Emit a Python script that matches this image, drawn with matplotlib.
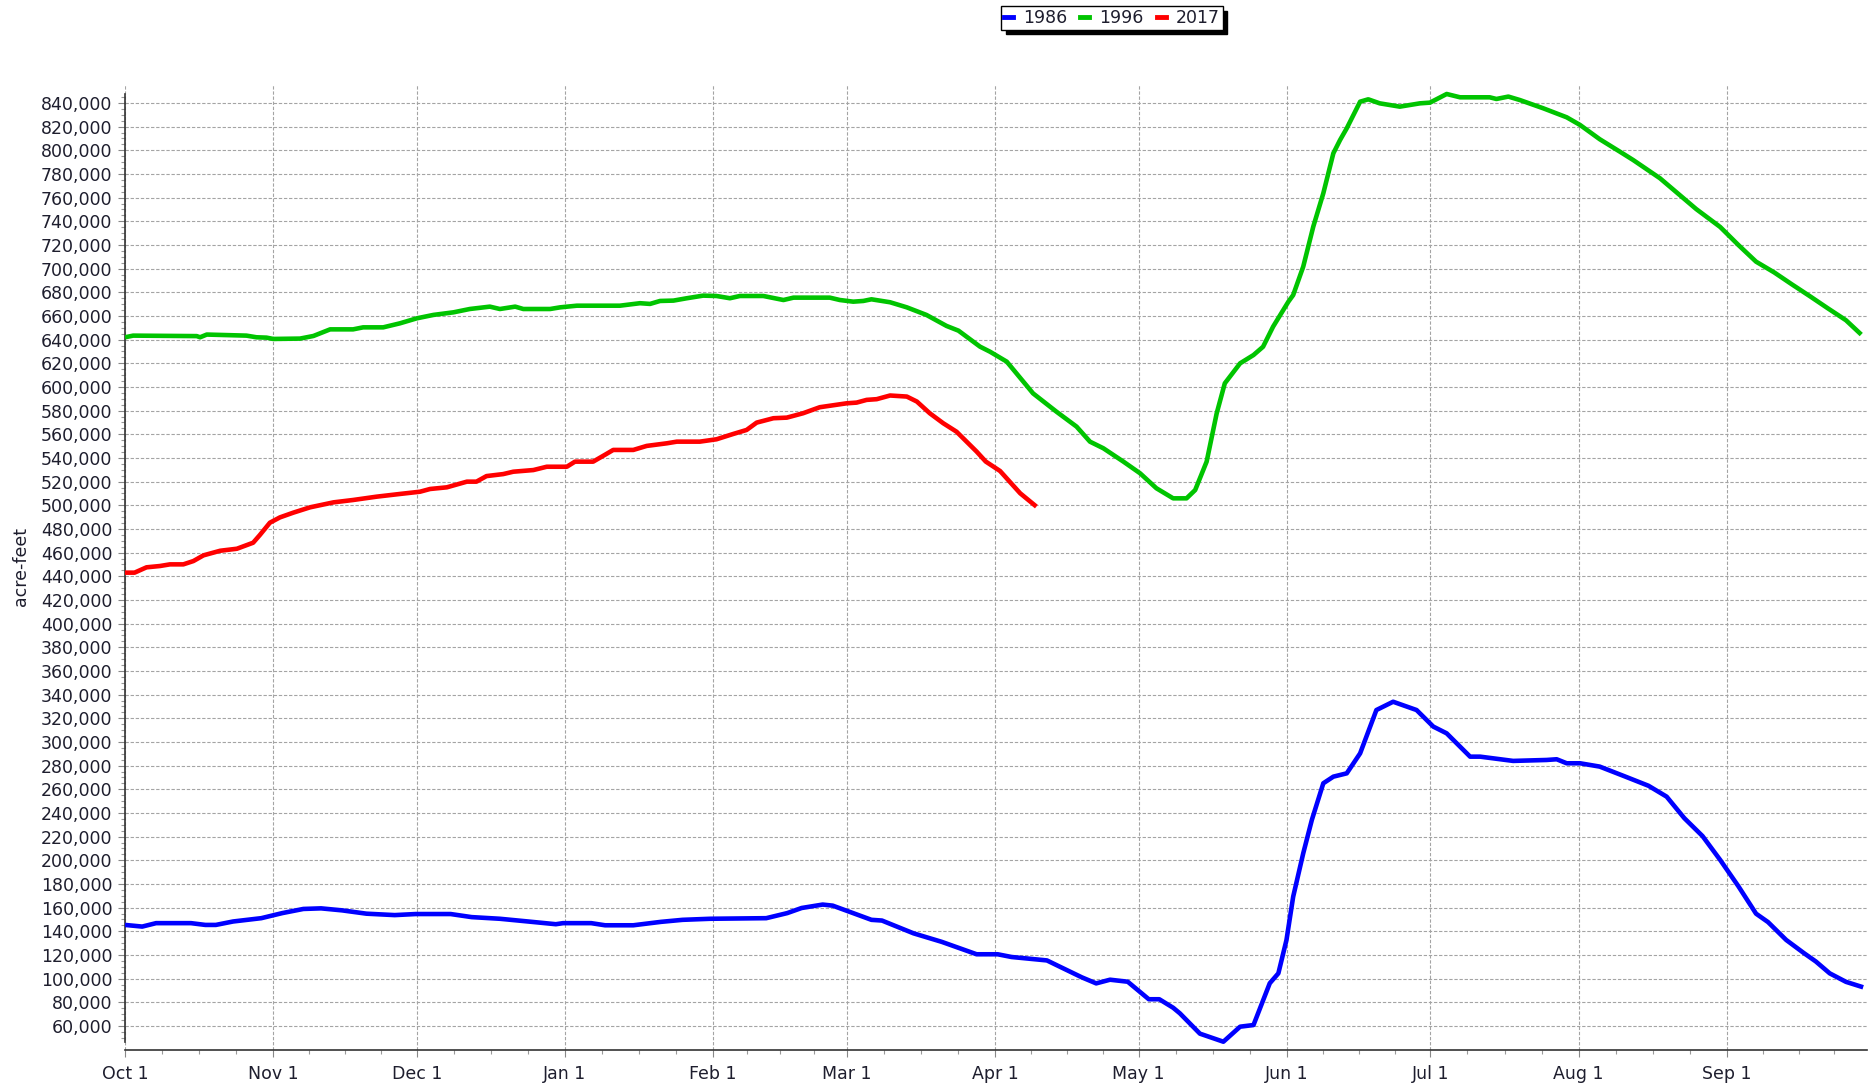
import matplotlib
matplotlib.use("Agg")
import matplotlib.pyplot as plt
from matplotlib.lines import Line2D
from matplotlib.ticker import FixedLocator, FuncFormatter
import numpy as np

# ---------------- data (day of water year since Oct 1, acre-feet) ----------------
days_1986 = [0, 3.6, 6.5, 13.8, 16.8, 19, 22.6, 28.5, 32.9, 37.3, 41, 45.4, 50.5, 56.4, 60.8,
             68.1, 72.5, 78.4, 84.3, 90.1, 91.6, 97.5, 100.4, 106.3, 112.1, 116.6, 122.4, 134.1,
             138.5, 141.5, 145.9, 148, 153.2, 156.1, 158.3, 164.9, 170.8, 178.1, 182.5, 185.4,
             192.8, 195.7, 200.1, 203.1, 206, 209.7, 214.1, 216.3, 219.2, 220.6, 224.8, 229.7,
             233.2, 236, 239.4, 241.2, 242.9, 244.3, 246.4, 248.2, 250.6, 252.7, 255.5, 258.3,
             261.7, 265.2, 270.1, 273.6, 276.4, 281.3, 283.4, 290.3, 297.3, 299.4, 301.5, 304.3,
             308.4, 313.6, 318.6, 322.4, 326.1, 329.9, 333.6, 337.4, 341.1, 343.6, 347.4, 351.1,
             353.6, 356.5, 359.9, 363.5]
vals_1986 = [145400, 144000, 146900, 146900, 145400, 145400, 148300, 151100, 155400, 158900,
             159400, 157700, 154900, 153700, 154600, 154600, 152000, 150600, 148300, 146000,
             146900, 146900, 145100, 145100, 148000, 149700, 150600, 151100, 155400, 159700,
             162600, 161700, 154000, 149700, 149100, 138300, 131100, 120600, 120600, 118300,
             115400, 109700, 101100, 96000, 99100, 97400, 82600, 82600, 75400, 70700, 53500,
             46700, 59400, 60800, 96100, 104500, 132700, 169300, 205900, 234100, 265100, 270700,
             273500, 290400, 327000, 334000, 327000, 313000, 307300, 287600, 287600, 284000,
             284800, 285400, 282000, 282000, 279200, 271000, 263000, 253800, 235600, 220500,
             200300, 178100, 154900, 147800, 132700, 121600, 114500, 104500, 97300, 92700]

days_1996 = [0, 1.7, 15, 15.7, 17.1, 25.4, 27.5, 29.6, 31, 36.6, 39.4, 42.9, 47.7, 49.8, 54,
             57.5, 61, 64.5, 68.7, 72.1, 76.3, 78.4, 81.6, 83.3, 88.9, 91, 94.5, 103.5, 107.7,
             109.8, 111.9, 114.7, 117.5, 120.9, 123.7, 126.5, 128.6, 133.5, 137.7, 139.8, 147.4,
             149.5, 152.3, 154.4, 156.1, 160, 163.5, 167.6, 171.8, 174.3, 178.8, 180.9, 184.4,
             189.9, 194.8, 199, 201.8, 204.6, 208.8, 212.3, 215.7, 219.2, 222, 223.8, 226.2,
             228.3, 230, 233.2, 236, 238, 240.1, 243.3, 244.3, 246.4, 248.5, 250.6, 252.7,
             254.1, 255.5, 258.3, 260, 262.4, 266.6, 270.8, 272.9, 276.4, 279.2, 285.4, 286.8,
             289.3, 291.7, 296.6, 301.5, 304.3, 308.4, 312.6, 315.4, 321, 328.6, 333.6, 337.4,
             341.1, 344.9, 348.6, 352.4, 356.1, 359.9, 363.1]
vals_1996 = [642000, 643400, 643000, 642000, 644300, 643400, 642000, 641700, 640600, 640900,
             643100, 648700, 648700, 650400, 650400, 653800, 658000, 660900, 663100, 665900,
             667900, 665900, 667900, 665900, 665900, 667300, 668700, 668700, 670800, 670200,
             672700, 673000, 675000, 677200, 676900, 675000, 676900, 676900, 673500, 675500,
             675500, 673500, 672100, 672700, 674100, 671600, 667300, 660900, 651600, 647600,
             634100, 629800, 621400, 594600, 579100, 566500, 553800, 548200, 536900, 527000,
             514400, 505900, 505900, 512900, 536900, 577700, 603100, 620000, 627000, 634000,
             651000, 672100, 677700, 701700, 735500, 763700, 797500, 808700, 818600, 841100,
             843100, 839700, 836900, 839700, 840300, 847600, 844800, 844800, 843400, 845400,
             842500, 835500, 827900, 821400, 809400, 798900, 791800, 776400, 750300, 735200,
             720000, 705900, 696800, 686700, 676600, 666500, 656400, 644300]

days_2017 = [0, 2, 4.5, 7.3, 9.4, 12.2, 14.3, 16.4, 19.9, 23.4, 26.8, 28.2, 30.3, 32.4, 35.2,
             38.7, 43.6, 47.7, 52.6, 57.5, 61.7, 63.8, 67.3, 71.5, 73.5, 75.6, 79.1, 81.2, 85.4,
             88.2, 92.4, 94.1, 97.9, 100.5, 102.1, 106.3, 109.1, 113.3, 115.4, 120.2, 123.7,
             127.2, 130, 132.1, 135.6, 138.4, 141.8, 145.3, 150.9, 153, 155.1, 157.2, 160, 163.5,
             165.6, 168.3, 171.1, 173.9, 178.1, 180, 183, 187.2, 190.6]
vals_2017 = [443100, 443100, 447600, 448700, 450100, 450100, 452900, 457700, 461600, 463300,
             468400, 474900, 485300, 489800, 493800, 498300, 502500, 504500, 507300, 509600,
             511500, 513800, 515200, 520000, 520000, 524700, 526400, 528400, 529800, 532600,
             532600, 536900, 536900, 543000, 546800, 546800, 550200, 552400, 553800, 553800,
             555800, 560300, 563700, 569900, 573600, 574100, 577800, 582900, 586200, 586800,
             589100, 589700, 592800, 591900, 587700, 577800, 569400, 562200, 545400, 537000,
             529000, 510200, 498900]

series_names = ["1986", "1996", "2017"]
month_labels = ["Oct 1", "Nov 1", "Dec 1", "Jan 1", "Feb 1", "Mar 1", "Apr 1", "May 1",
                "Jun 1", "Jul 1", "Aug 1", "Sep 1"]
month_lengths = [31, 30, 31, 31, 28, 31, 30, 31, 30, 31, 31, 30]
y_label = "acre-feet"

# ---------------- style ----------------
colors = ["#0000ff", "#00c400", "#ff0000"]
text_color = "#1e1e2e"
grid_color = "#a4a4a4"
FS = 12.5

W, H = 1873, 1083
fig = plt.figure(figsize=(W / 100, H / 100), dpi=100)
left_px, right_px, top_px, bottom_px = 125, 1867, 85, 1050
ax = fig.add_axes([left_px / W, 1 - bottom_px / H, (right_px - left_px) / W,
                   (bottom_px - top_px) / H])

for d, v, c in zip([days_1986, days_1996, days_2017], [vals_1986, vals_1996, vals_2017], colors):
    ax.plot(d, v, color=c, lw=3.3, zorder=3, solid_capstyle="butt", solid_joinstyle="round")

ax.set_xlim(0, 364.3)
ax.set_ylim(39700, 855200)

month_starts = np.concatenate([[0], np.cumsum(month_lengths)])
minor_x = []
for a, b in zip(month_starts[:-1], month_starts[1:]):
    minor_x += [a + (b - a) * k / 4 for k in (1, 2, 3)]
ax.xaxis.set_major_locator(FixedLocator(month_starts[:-1]))
ax.xaxis.set_minor_locator(FixedLocator(minor_x))
ax.set_xticklabels(month_labels)

all_vals = vals_1986 + vals_1996 + vals_2017
ymin, ymax = min(all_vals), max(all_vals)
ax.yaxis.set_major_locator(FixedLocator(np.arange(60000, 840001, 20000)))
ax.yaxis.set_minor_locator(FixedLocator(np.arange(50000, 845001, 5000)))
ax.yaxis.set_major_formatter(FuncFormatter(lambda v, p: f"{int(v):,}"))

for s in ("top", "right"):
    ax.spines[s].set_visible(False)
ax.spines["left"].set_bounds(ymin, ymax)
ax.spines["left"].set_color("#333333")
ax.spines["bottom"].set_color("#333333")
ax.spines["left"].set_linewidth(1.2)
ax.spines["bottom"].set_linewidth(1.2)

ax.tick_params(axis="both", which="major", direction="out", length=5, width=0.8,
               color="#888888", labelsize=FS, labelcolor=text_color, pad=4)
ax.tick_params(axis="both", which="minor", direction="out", length=3, width=0.8,
               color="#999999")
ax.tick_params(axis="x", which="major", pad=6)

ax.grid(True, which="major", axis="both", color=grid_color, lw=0.8,
        linestyle=(0, (3.0, 1.6)), zorder=0)
ax.set_axisbelow(True)

fig.text(21 / W, 1 - 567 / H, y_label, rotation=90, ha="center", va="center",
         fontsize=FS, color=text_color)

handles = [Line2D([0], [0], color=c, lw=3.5) for c in colors]
leg = fig.legend(handles, series_names, loc="center", bbox_to_anchor=(1112 / W, 1 - 18 / H),
                 ncol=3, fontsize=FS, frameon=True, fancybox=False, handlelength=0.5,
                 handletextpad=0.6, columnspacing=0.75, borderpad=0.15, borderaxespad=0,
                 shadow={"facecolor": "black", "edgecolor": "black", "alpha": 1,
                         "ox": 3, "oy": -3})
leg.get_frame().set_edgecolor("black")
leg.get_frame().set_linewidth(1.0)
for t in leg.get_texts():
    t.set_color(text_color)

fig.savefig("out.png", dpi=100)
